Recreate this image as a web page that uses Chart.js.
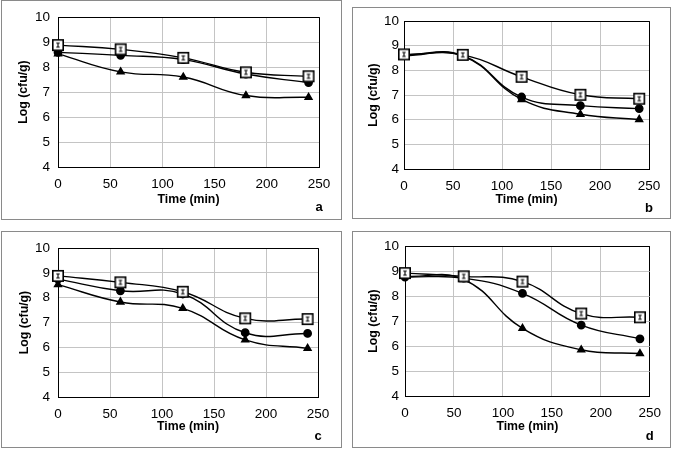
<!DOCTYPE html>
<html>
<head>
<meta charset="utf-8">
<script src="https://cdn.jsdelivr.net/npm/chart.js@4.4.0/dist/chart.umd.min.js"></script>
<style>
  body{margin:0;background:#fff;width:676px;height:449px;position:relative;overflow:hidden}
  .panel{position:absolute;border:1px solid #8a8a8a;box-sizing:border-box;background:#fff}
  .panel canvas{display:block}
</style>
</head>
<body>
<div class="panel" style="left:1px;top:0px;width:341px;height:220px"><canvas id="ca" width="339" height="218"></canvas></div>
<div class="panel" style="left:352px;top:7px;width:319px;height:212px"><canvas id="cb" width="317" height="210"></canvas></div>
<div class="panel" style="left:1px;top:231px;width:341px;height:217px"><canvas id="cc" width="339" height="215"></canvas></div>
<div class="panel" style="left:352px;top:231px;width:319px;height:217px"><canvas id="cd" width="317" height="215"></canvas></div>
<script>
// sampling times (min)
let times = [0, 60, 120, 180, 240];
let xTicks = [0, 50, 100, 150, 200, 250];
let yTicks = [4, 5, 6, 7, 8, 9, 10];

// panel a
let aSquare   = [8.88, 8.71, 8.37, 7.79, 7.63];
let aCircle   = [8.59, 8.47, 8.30, 7.72, 7.38];
let aTriangle = [8.53, 7.81, 7.60, 6.86, 6.79];
// panel b
let bSquare   = [8.65, 8.63, 7.74, 7.01, 6.85];
let bCircle   = [8.63, 8.60, 6.92, 6.57, 6.45];
let bTriangle = [8.60, 8.58, 6.82, 6.22, 6.01];
// panel c
let cSquare   = [8.88, 8.62, 8.24, 7.17, 7.14];
let cCircle   = [8.75, 8.28, 8.15, 6.59, 6.56];
let cTriangle = [8.53, 7.83, 7.57, 6.30, 5.96];
// panel d
let dSquare   = [8.92, 8.79, 8.58, 7.30, 7.15];
let dCircle   = [8.76, 8.72, 8.11, 6.84, 6.29];
let dTriangle = [8.79, 8.66, 6.71, 5.85, 5.70];

let FONT = "'Liberation Sans', Arial, sans-serif";

// open square marker with a small error bar inside
function squareMark(){
  let c = document.createElement('canvas');
  c.width = 14; c.height = 14;
  let g = c.getContext('2d');
  g.fillStyle = '#fff';
  g.fillRect(1, 1, 12, 12);
  g.strokeStyle = '#000';
  g.lineWidth = 1.6;
  g.strokeRect(1.8, 1.8, 10.4, 10.4);
  g.lineWidth = 1.1;
  g.beginPath();
  g.moveTo(7, 4.5); g.lineTo(7, 9.5);
  g.moveTo(5.3, 5); g.lineTo(8.7, 5);
  g.moveTo(5.3, 9); g.lineTo(8.7, 9);
  g.stroke();
  return c;
}
let sqImg = squareMark();

function pts(vals){
  return vals.map(function(v, i){ return {x: times[i], y: v}; });
}

let letterPlugin = {
  id: 'panelLetter',
  afterDraw: function(chart, args, opts){
    let ctx = chart.ctx;
    ctx.save();
    ctx.fillStyle = '#000';
    ctx.font = 'bold 13px ' + FONT;
    ctx.textAlign = 'center';
    ctx.textBaseline = 'middle';
    ctx.fillText(opts.text, chart.chartArea.right + opts.dx, chart.height - opts.dy);
    ctx.restore();
  }
};

function makeChart(id, sq, ci, tr, lay){
  let ctx = document.getElementById(id);
  let common = {
    borderColor: '#000',
    backgroundColor: '#000',
    borderWidth: 1.4,
    tension: 0.45,
    clip: false,
    fill: false
  };
  return new Chart(ctx, {
    type: 'line',
    data: {
      datasets: [
        Object.assign({label: 'square', data: pts(sq), pointStyle: sqImg}, common),
        Object.assign({label: 'circle', data: pts(ci), pointStyle: 'circle', pointRadius: 3.7}, common),
        Object.assign({label: 'triangle', data: pts(tr), pointStyle: 'triangle', pointRadius: 4}, common)
      ]
    },
    options: {
      responsive: false,
      animation: false,
      layout: {padding: {left: 0, top: lay.top, right: lay.right, bottom: 0}},
      plugins: {
        legend: {display: false},
        tooltip: {enabled: false},
        panelLetter: {text: lay.letter, dx: lay.ldx, dy: lay.ldy}
      },
      scales: {
        x: {
          type: 'linear', min: 0, max: 250,
          afterBuildTicks: function(s){ s.ticks = xTicks.map(function(v){ return {value: v}; }); },
          afterFit: function(s){ s.height = lay.xh; },
          grid: {
            color: function(c){ return c.tick && c.tick.value === 250 ? '#000' : '#c4c4c4'; },
            lineWidth: 1, drawTicks: false
          },
          border: {color: '#000', width: 1},
          ticks: {color: '#000', font: {family: FONT, size: 13.5}, padding: 9, maxRotation: 0},
          title: {display: true, text: 'Time (min)', color: '#000',
                  font: {family: FONT, size: 12.3, weight: 'bold'}, padding: {top: 0, bottom: lay.xtp}}
        },
        y: {
          type: 'linear', min: 4, max: 10,
          afterBuildTicks: function(s){ s.ticks = yTicks.map(function(v){ return {value: v}; }); },
          afterFit: function(s){ s.width = lay.yw; },
          grid: {
            color: function(c){ return c.tick && c.tick.value === 10 ? '#000' : '#c4c4c4'; },
            lineWidth: 1, drawTicks: false
          },
          border: {color: '#000', width: 1},
          ticks: {color: '#000', font: {family: FONT, size: 13.5}, padding: lay.ytp},
          title: {display: true, text: 'Log (cfu/g)', color: '#000',
                  font: {family: FONT, size: 12.3, weight: 'bold'}, padding: {top: lay.ttp, bottom: 0}}
        }
      }
    },
    plugins: [letterPlugin]
  });
}

makeChart('ca', aSquare, aCircle, aTriangle,
  {top: 12, right: 22, xh: 52, yw: 56, ytp: 8, xtp: 12, ttp: 14, letter: 'a', ldx: 0, ldy: 12});
makeChart('cb', bSquare, bCircle, bTriangle,
  {top: 10, right: 21, xh: 49, yw: 51, ytp: 5, xtp: 11, ttp: 13, letter: 'b', ldx: 0, ldy: 10});
makeChart('cc', cSquare, cCircle, cTriangle,
  {top: 10, right: 23, xh: 50, yw: 56, ytp: 8, xtp: 13, ttp: 15, letter: 'c', ldx: 0, ldy: 11});
makeChart('cd', dSquare, dCircle, dTriangle,
  {top: 11, right: 17, xh: 51, yw: 52, ytp: 6, xtp: 13, ttp: 13, letter: 'd', ldx: 0, ldy: 11});
</script>
</body>
</html>
